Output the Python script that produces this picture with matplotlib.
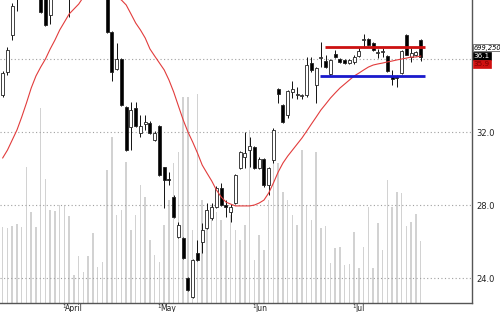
import matplotlib
matplotlib.use("Agg")
import matplotlib.pyplot as plt
import matplotlib.transforms as mtransforms
import numpy as np

# ---------------- data ----------------
opens = [34.03, 35.29, 37.32, 39.40, 39.90, 40.30, 40.00, 40.50, 39.80, 39.50,
         38.41, 39.50, 40.00, 40.40, 40.00, 40.60, 41.00, 40.70, 41.20, 40.90,
         40.40, 40.00, 39.80, 37.48, 35.45, 36.00, 33.37, 32.27, 33.32, 31.95,
         32.44, 32.49, 31.56, 32.33, 30.08, 29.42, 28.44, 26.25, 26.19, 24.00,
         22.96, 25.37, 25.97, 26.74, 27.29, 27.89, 28.93, 28.00, 27.62, 28.11,
         30.03, 30.63, 31.01, 31.18, 30.03, 30.52, 29.10, 30.47, 34.36, 33.48,
         32.93, 34.19, 34.03, 33.97, 34.03, 35.78, 34.58, 36.05, 35.89, 35.18,
         36.27, 36.00, 35.95, 35.78, 35.84, 36.16, 37.04, 37.10, 36.88, 36.33,
         36.38, 36.16, 35.07, 35.07, 35.23, 37.32, 36.11, 36.22, 37.04]
highs = [35.34, 36.66, 39.07, 40.10, 40.60, 40.70, 40.80, 40.70, 40.00, 39.70,
         39.80, 40.30, 40.80, 40.90, 40.90, 41.30, 41.40, 41.50, 41.60, 41.20,
         40.70, 40.30, 40.00, 37.55, 36.88, 36.05, 33.40, 33.64, 33.64, 32.93,
         32.93, 32.60, 32.05, 32.38, 30.08, 29.81, 28.55, 27.07, 26.25, 24.05,
         25.05, 26.08, 27.01, 28.11, 28.11, 29.04, 29.21, 28.27, 28.05, 29.70,
         30.95, 32.00, 31.73, 31.23, 30.63, 30.55, 30.08, 32.22, 34.41, 33.55,
         34.30, 34.79, 34.47, 34.10, 36.11, 36.11, 35.56, 36.93, 36.22, 36.00,
         36.49, 36.05, 36.00, 36.00, 36.22, 36.66, 37.37, 37.15, 36.93, 36.55,
         36.60, 36.20, 35.40, 35.12, 36.50, 37.35, 36.60, 36.45, 37.10]
lows = [33.92, 35.12, 37.04, 38.63, 39.60, 39.70, 39.80, 39.50, 38.50, 37.80,
        37.92, 39.30, 39.70, 39.80, 38.30, 40.30, 40.40, 40.50, 40.60, 40.00,
        39.60, 39.40, 37.45, 34.79, 35.40, 33.42, 30.98, 31.01, 32.27, 31.73,
        32.11, 31.89, 31.51, 29.59, 27.84, 29.10, 27.29, 26.20, 25.05, 23.30,
        22.90, 24.95, 25.37, 26.70, 27.20, 27.85, 27.95, 27.34, 27.07, 28.05,
        29.98, 30.03, 30.08, 30.00, 29.98, 28.99, 28.55, 30.30, 33.59, 32.50,
        32.77, 33.86, 33.81, 33.80, 33.92, 35.29, 33.59, 35.56, 35.50, 35.07,
        36.05, 35.80, 35.72, 35.70, 35.73, 36.10, 36.66, 36.70, 36.45, 36.05,
        36.11, 35.30, 34.58, 34.47, 35.20, 36.20, 35.84, 36.16, 35.90]
closes = [35.23, 36.49, 38.90, 39.90, 40.40, 40.00, 40.50, 39.80, 38.58, 37.86,
          39.50, 40.00, 40.40, 40.10, 40.60, 41.00, 40.70, 41.20, 40.90, 40.40,
          40.00, 39.80, 37.48, 35.29, 36.00, 33.48, 31.01, 33.21, 32.33, 32.33,
          32.55, 31.95, 31.95, 29.64, 29.37, 29.37, 27.34, 26.90, 25.10, 23.34,
          24.99, 24.99, 26.63, 27.73, 27.89, 28.93, 28.00, 27.89, 27.89, 29.64,
          30.90, 30.85, 31.23, 30.03, 30.52, 29.10, 30.03, 32.11, 34.08, 32.55,
          34.25, 34.36, 34.05, 33.97, 35.67, 35.40, 35.51, 36.05, 35.56, 35.95,
          36.11, 35.84, 35.78, 35.95, 36.11, 36.44, 37.04, 36.77, 36.49, 36.33,
          36.38, 35.34, 34.90, 34.96, 36.44, 36.22, 36.33, 36.38, 36.10]
volumes = [857000, 846000, 869000, 891000, 857000, 1534000, 1026000, 857000, 2200000, 1399000,
           1049000, 1038000, 1105000, 1105000, 981000, 316000, 530000, 350000, 530000, 790000,
           406000, 462000, 1500000, 1872000, 993000, 1049000, 1590000, 823000, 993000, 1331000,
           1196000, 711000, 541000, 462000, 880000, 1162000, 1579000, 1703000, 2324000, 2324000,
           823000, 2358000, 1162000, 1049000, 1105000, 1026000, 936000, 711000, 993000, 823000,
           711000, 880000, 1951000, 485000, 767000, 598000, 1162000, 1590000, 1579000, 1252000,
           1162000, 993000, 880000, 1726000, 1105000, 936000, 1703000, 846000, 869000, 451000,
           620000, 632000, 429000, 440000, 801000, 395000, 632000, 1083000, 395000, 902000,
           598000, 1387000, 1083000, 1252000, 1241000, 869000, 914000, 1004000, 699250]
ma = [30.58, 31.01, 31.56, 32.11, 32.82, 33.59, 34.41, 35.07, 35.56, 36.00,
      36.55, 37.04, 37.59, 38.03, 38.47, 38.74, 39.01, 39.40, 39.67, 39.78,
      39.78, 39.73, 39.62, 39.45, 39.40, 39.23, 38.96, 38.47, 37.97, 37.59,
      37.15, 36.55, 36.16, 35.78, 35.40, 34.85, 34.19, 33.42, 32.66, 32.00,
      31.45, 30.85, 30.19, 29.75, 29.32, 28.82, 28.44, 28.16, 28.05, 27.95,
      27.95, 27.95, 27.95, 28.00, 28.11, 28.27, 28.66, 29.21, 29.81, 30.30,
      30.68, 31.01, 31.34, 31.67, 32.05, 32.44, 32.82, 33.21, 33.53, 33.86,
      34.14, 34.41, 34.63, 34.85, 35.07, 35.23, 35.40, 35.56, 35.67, 35.73,
      35.78, 35.84, 35.89, 35.95, 36.00, 36.05, 36.11, 36.11, 36.16]
month_pos = [13, 33, 53, 74]
month_labels = ["April", "May", "Jun", "Jul"]
price_ticks = [24.0, 28.0, 32.0, 36.0]
resistance = 36.66
support = 35.09
res_span = (67.9, 88.9)
sup_span = (66.8, 88.9)
last_volume_label = "699,250"
last_close_label = "36.1"
ma_label = "35.9"

# ---------------- figure ----------------
fig = plt.figure(figsize=(5.0, 3.12), dpi=100)
ax = fig.add_axes([0.0, 0.0288, 0.944, 0.9712])
axv = ax.twinx()
ax.set_zorder(axv.get_zorder() + 1)
ax.patch.set_visible(False)

n = len(closes)
x = np.arange(n)

# volume
axv.bar(x, volumes, width=0.3, color="#d2d2d2", linewidth=0)
axv.set_ylim(0, 3.418e6)
axv.set_yticks([])
for s in axv.spines.values():
    s.set_visible(False)

# grid
for p in price_ticks:
    ax.axhline(p, color="#a0a0a0", lw=0.8, ls=(0, (1, 2.2)), zorder=1)

# candles
for i in range(n):
    o, h, l, c = opens[i], highs[i], lows[i], closes[i]
    ax.vlines(i, l, h, color="#111111", lw=0.7, zorder=3)
    up = c >= o
    bot = min(o, c)
    hgt = max(abs(c - o), 0.04)
    ax.bar(i, hgt, bottom=bot, width=0.65,
           color="white" if up else "black",
           edgecolor="#222222", linewidth=0.6, zorder=4)

# moving average
ax.plot(x, ma, color="#e23c3c", lw=0.8, zorder=5)

# support / resistance
ax.hlines(resistance, res_span[0], res_span[1], color="#cc1111", lw=2.0, zorder=6)
ax.hlines(support, sup_span[0], sup_span[1], color="#1a1acc", lw=2.0, zorder=6)

ax.set_xlim(-0.57, 98.8)
ax.set_ylim(22.63, 39.233)

ax.yaxis.tick_right()
ax.set_yticks(price_ticks[:3])
ax.set_yticklabels([f"{p:.1f}" for p in price_ticks[:3]], fontsize=6, color="#222222")
ax.tick_params(axis="y", length=0, pad=3)

ax.set_xticks(month_pos)
ax.set_xticklabels([""] * len(month_pos))
ax.tick_params(axis="x", length=0)
trans_x = mtransforms.blended_transform_factory(ax.transData, fig.transFigure)
for pos, lab in zip(month_pos, month_labels):
    ax.text(pos - 0.1, 0.018, "1", transform=trans_x, fontsize=4, ha="center", va="center", color="#222222")
    ax.text(pos + 0.2, 0.010, lab, transform=trans_x, fontsize=5.5, ha="left", va="center", color="#222222")

for k in ["top", "left"]:
    ax.spines[k].set_visible(False)
for k in ["right", "bottom"]:
    ax.spines[k].set_color("#555555")
    ax.spines[k].set_linewidth(1.0)

# right-side value labels
trans_y = mtransforms.blended_transform_factory(ax.transAxes, ax.transData)
ax.text(1.004, 36.62, last_volume_label, transform=trans_y, fontsize=4.8, ha="left", va="center",
        color="black", style="italic", clip_on=False,
        bbox=dict(boxstyle="square,pad=0.1", fc="white", ec="#444444", lw=0.5))
ax.text(1.004, 36.16, last_close_label, transform=trans_y, fontsize=5.2, ha="left", va="center",
        color="white", clip_on=False,
        bbox=dict(boxstyle="square,pad=0.15", fc="black", ec="black", lw=0.5))
ax.text(1.004, 35.72, ma_label, transform=trans_y, fontsize=5.2, ha="left", va="center",
        color="#7a0000", clip_on=False,
        bbox=dict(boxstyle="square,pad=0.15", fc="#d01010", ec="#d01010", lw=0.5))

fig.savefig("out.png", dpi=100)
